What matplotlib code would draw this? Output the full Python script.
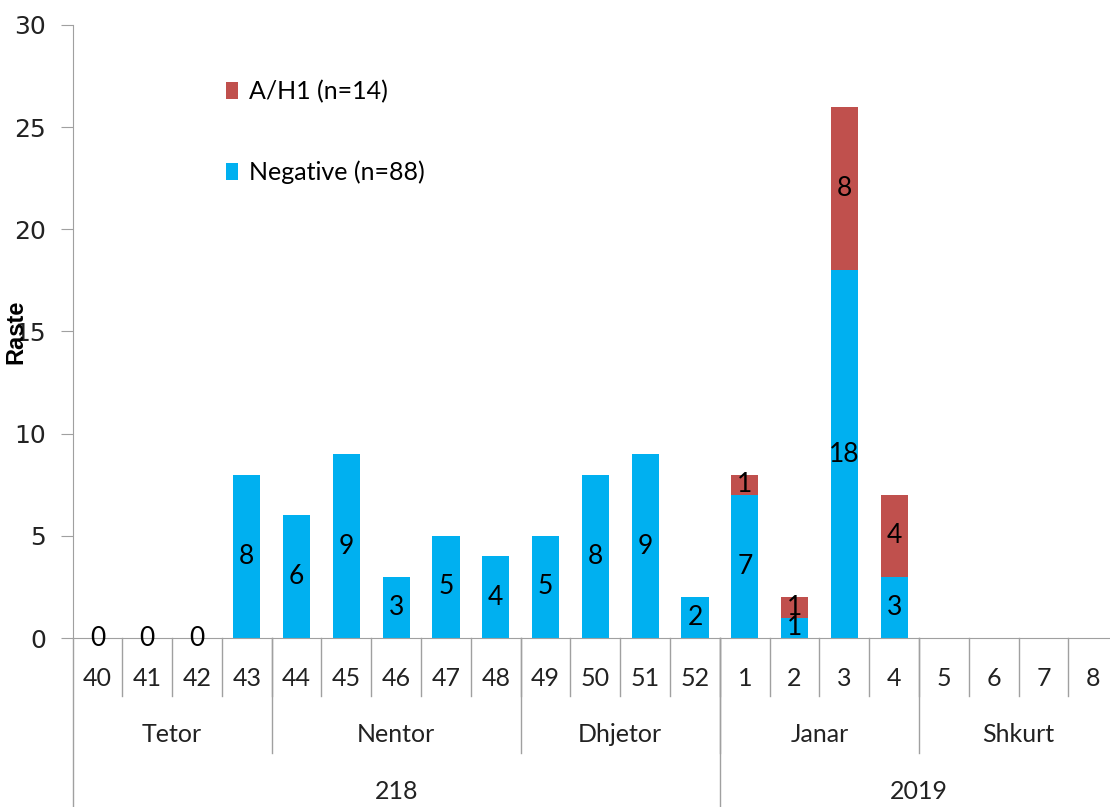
import numpy as np
import matplotlib.pyplot as plt
import matplotlib.transforms as mtransforms

weeks = ['40', '41', '42', '43', '44', '45', '46', '47', '48', '49', '50', '51', '52',
         '1', '2', '3', '4', '5', '6', '7', '8']
negative = [0, 0, 0, 8, 6, 9, 3, 5, 4, 5, 8, 9, 2, 7, 1, 18, 3,
            np.nan, np.nan, np.nan, np.nan]
ah1 = [np.nan] * 13 + [1, 1, 8, 4, np.nan, np.nan, np.nan, np.nan]
months = ['Tetor', 'Nentor', 'Dhjetor', 'Janar', 'Shkurt']
month_len = [4, 5, 4, 4, 4]
years = ['218', '2019']
year_len = [13, 8]

blue = '#00B0F0'
red = '#C0504D'
grey = '#A0A0A0'
lab_font = ['Lato', 'DejaVu Sans']

fig = plt.figure(figsize=(11.10, 8.07), dpi=100)
ax = fig.add_axes([72.5 / 1110, 169 / 807, 1045.8 / 1110, 613 / 807])

x = np.arange(len(weeks))
neg = np.array(negative, dtype=float)
h1 = np.array(ah1, dtype=float)
b1 = ax.bar(x, neg, width=0.55, color=blue, label='Negative (n=88)')
b2 = ax.bar(x, h1, width=0.55, bottom=np.nan_to_num(neg), color=red,
            label='A/H1 (n=14)')
for bars in (b1, b2):
    for t in ax.bar_label(bars, label_type='center', fontsize=19):
        t.set_family(lab_font)

ax.set_xlim(-0.5, len(weeks) - 0.5)
ax.set_ylim(0, 30)
ax.set_yticks(range(0, 31, 5))
ax.tick_params(axis='y', direction='out', length=9, color=grey, labelsize=18,
               pad=10, labelcolor='#222222')
ax.set_xticks([])
for s in ['top', 'right']:
    ax.spines[s].set_visible(False)
ax.spines['left'].set_color(grey)
ax.spines['bottom'].set_color(grey)
ax.plot([-0.5, -0.5], [0, -0.3], transform=mtransforms.blended_transform_factory(
    ax.transData, ax.transAxes), color=grey, lw=1, clip_on=False)

ax.set_ylabel('Raste', fontsize=17, fontweight='bold', family='Liberation Sans')
ax.yaxis.set_label_coords(-0.043, 0.50)

# multi-level category axis
tr = mtransforms.blended_transform_factory(ax.transData, ax.transAxes)
for i, w in enumerate(weeks):
    ax.text(i, -0.066, w, transform=tr, ha='center', va='center', fontsize=18,
            family=lab_font, color='#222222')
    if i > 0:
        ax.plot([i - 0.5, i - 0.5], [0, -0.0946], transform=tr, color=grey,
                lw=1, clip_on=False)
start = 0
for m, n in zip(months, month_len):
    ax.text(start + n / 2 - 0.5, -0.157, m, transform=tr, ha='center',
            va='center', fontsize=18, family=lab_font, color='#222222')
    start += n
    if start < len(weeks):
        ax.plot([start - 0.5, start - 0.5], [0, -0.1876], transform=tr,
                color=grey, lw=1, clip_on=False)
start = 0
for yv, n in zip(years, year_len):
    ax.text(start + n / 2 - 0.5, -0.25, yv, transform=tr, ha='center',
            va='center', fontsize=18, family=lab_font, color='#222222')
    start += n
    if start < len(weeks):
        ax.plot([start - 0.5, start - 0.5], [0, -0.3], transform=tr,
                color=grey, lw=1, clip_on=False)

h, l = ax.get_legend_handles_labels()
leg = ax.legend(h[::-1], l[::-1], loc='upper left', bbox_to_anchor=(0.125, 0.947),
                frameon=False, handlelength=0.5, handleheight=0.7,
                handletextpad=0.45, labelspacing=2.3,
                prop={'family': lab_font, 'size': 18})

fig.savefig('out.png', dpi=100)
